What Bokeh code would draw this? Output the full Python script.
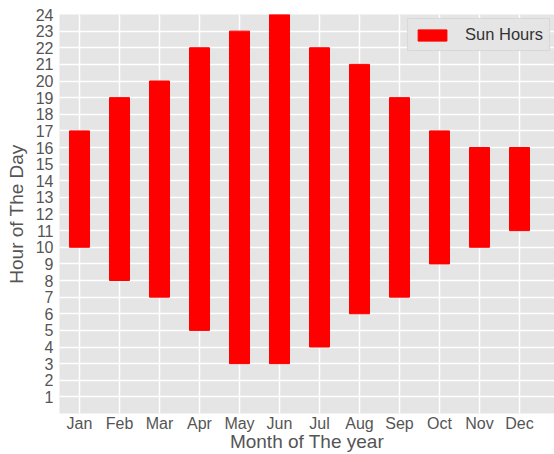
from bokeh.plotting import figure
from bokeh.models import Range1d, FixedTicker
from bokeh.embed import file_html
from bokeh.resources import INLINE

months = ["Jan", "Feb", "Mar", "Apr", "May", "Jun", "Jul", "Aug", "Sep", "Oct", "Nov", "Dec"]
sunrise = [10, 8, 7, 5, 3, 3, 4, 6, 7, 9, 10, 11]
sunset = [17, 19, 20, 22, 23, 24, 22, 21, 19, 17, 16, 16]
y_ticks = list(range(1, 25))

xs = list(range(len(months)))

p = figure(width=554, height=454, output_backend="svg", toolbar_location=None,
           x_range=Range1d(-0.5, 11.875), y_range=Range1d(0, 24),
           min_border_left=59, min_border_right=0, min_border_top=14, min_border_bottom=40)

p.background_fill_color = "#E5E5E5"
p.border_fill_color = "white"
p.outline_line_color = None

p.vbar(x=xs, bottom=sunrise, top=sunset, width=0.5, fill_color="red", line_color="red",
       legend_label="Sun Hours")

p.xaxis.ticker = FixedTicker(ticks=xs)
p.xaxis.major_label_overrides = {i: m for i, m in enumerate(months)}
p.yaxis.ticker = FixedTicker(ticks=y_ticks)

for ax in (p.xaxis, p.yaxis):
    ax.axis_line_color = None
    ax.major_tick_line_color = None
    ax.minor_tick_line_color = None
    ax.major_tick_out = 0
    ax.major_tick_in = 0
    ax.minor_tick_out = 0
    ax.major_label_text_font = "Liberation Sans"
    ax.major_label_text_font_size = "16px"
    ax.major_label_text_color = "#555555"
    ax.axis_label_text_font = "Liberation Sans"
    ax.axis_label_text_font_size = "19px"
    ax.axis_label_text_font_style = "normal"
    ax.axis_label_text_color = "#555555"

p.xaxis.axis_label = "Month of The year"
p.yaxis.axis_label = "Hour of The Day"
p.xaxis.major_label_standoff = 1
p.xaxis.axis_label_standoff = -4
p.yaxis.major_label_standoff = 6
p.yaxis.axis_label_standoff = 6

p.xgrid.ticker = FixedTicker(ticks=xs)
p.ygrid.ticker = FixedTicker(ticks=y_ticks)
p.grid.grid_line_color = "white"
p.grid.grid_line_width = 1.5

p.legend.location = "top_right"
p.legend.background_fill_color = "#E5E5E5"
p.legend.background_fill_alpha = 1
p.legend.border_line_color = "#CCCCCC"
p.legend.label_text_font = "Liberation Sans"
p.legend.label_text_font_size = "16.5px"
p.legend.label_text_color = "#333333"
p.legend.glyph_width = 36
p.legend.glyph_height = 14
p.legend.margin = 4
p.legend.padding = 6
p.legend.label_standoff = 15

open("out.html", "w").write(file_html(p, INLINE))
